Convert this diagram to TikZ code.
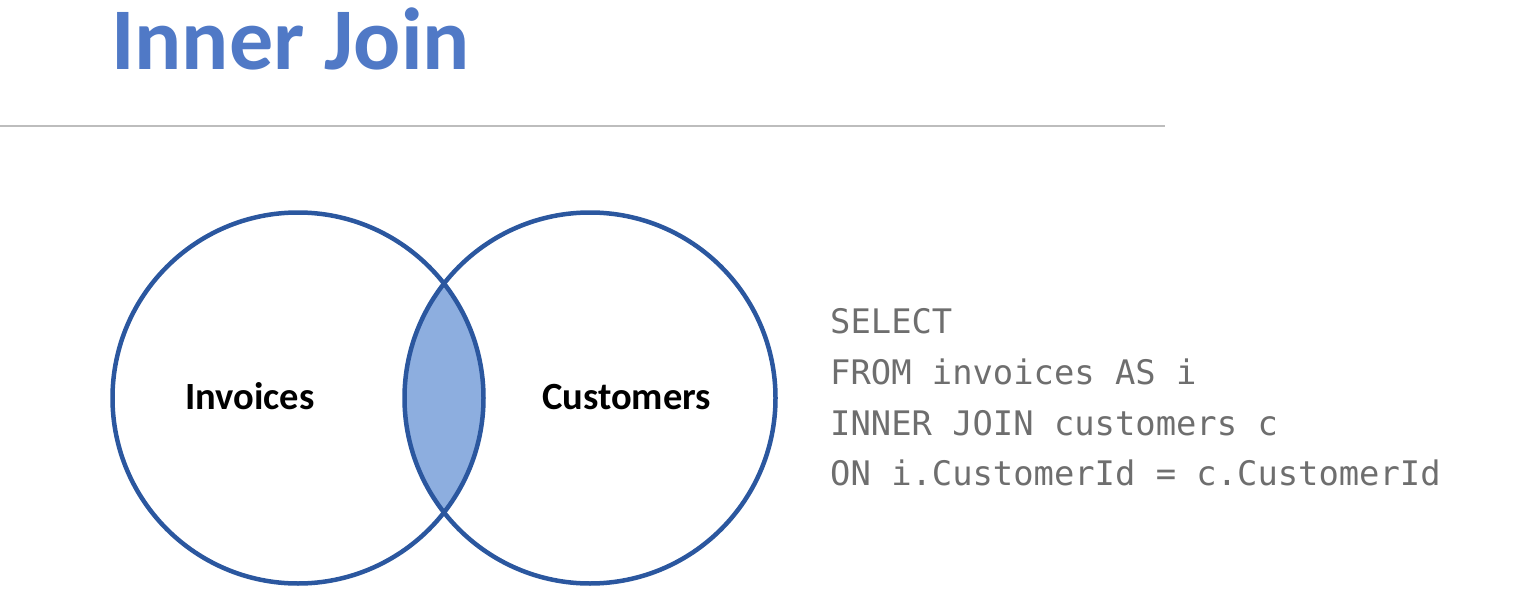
\documentclass[tikz,border=0pt]{standalone}
\usepackage{fontspec}
\setmainfont{Carlito}
\newfontfamily\codefont{DejaVu Sans Mono}
\definecolor{titleblue}{HTML}{5079C6}
\definecolor{ringblue}{HTML}{2B579F}
\definecolor{lensfill}{HTML}{8DAEDF}
\definecolor{rulegray}{HTML}{BDBDBD}
\definecolor{codegray}{HTML}{6E6E6E}
\begin{document}
\begin{tikzpicture}[x=1pt,y=-1pt,
  ring/.style={circle, draw=ringblue, line width=4.5pt, minimum size=371pt, inner sep=0pt},
  setlabel/.style={font=\fontsize{38.5}{40}\selectfont\bfseries, text=black, anchor=base, inner sep=0pt},
  codeline/.style={font=\codefont\fontsize{33.8}{36}\selectfont, text=codegray, anchor=base west, inner sep=0pt}]
\useasboundingbox (0,0) rectangle (1518,591);
\node[font=\fontsize{88}{90}\selectfont\bfseries, text=titleblue, anchor=base west, inner sep=0pt] (title) at (111,70) {Inner Join};
\coordinate (ruleL) at (0,126);
\coordinate (ruleR) at (1165,126);
\draw[rulegray, line width=2pt] (ruleL) -- (ruleR);
\begin{scope}
  \clip (298,398) circle (185.5);
  \fill[lensfill] (590,398) circle (185.5);
\end{scope}
\node[ring] (inv) at (298,398) {};
\node[ring] (cus) at (590,398) {};
\node[setlabel] (invlabel) at (250,409) {Invoices};
\node[setlabel] (cuslabel) at (626.5,409) {Customers};
\node[codeline] (c1) at (830,333) {SELECT};
\node[codeline] (c2) at (830,384) {FROM invoices AS i};
\node[codeline] (c3) at (830,435) {INNER JOIN customers c};
\node[codeline] (c4) at (830,485) {ON i.CustomerId = c.CustomerId};
\end{tikzpicture}
\end{document}
